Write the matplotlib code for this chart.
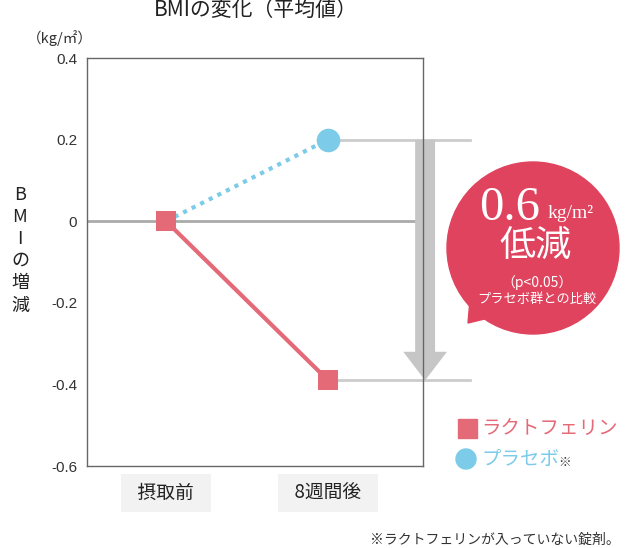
import numpy as np
import matplotlib.pyplot as plt
from matplotlib.patches import Circle, Polygon, FancyArrow

plt.rcParams['font.family'] = ['Noto Sans CJK JP', 'DejaVu Sans']

# data
timepoints = ["摂取前", "8週間後"]
lacto_vals = [0.0, -0.39]
placebo_vals = [0.0, 0.20]
yticks = [0.4, 0.2, 0, -0.2, -0.4, -0.6]
ytick_labels = ["0.4", "0.2", "0", "-0.2", "-0.4", "-0.6"]
series_names = ["ラクトフェリン", "プラセボ"]

pink = "#e46a78"
blue = "#7ccbe8"
bubble_red = "#e0435e"
arrow_gray = "#c6c6c6"

fig = plt.figure(figsize=(6.3, 5.48), dpi=100)
ax = fig.add_axes([87/630, 1-466/548, 336/630, 408/548])

x = np.arange(len(timepoints))
ax.set_xlim(-0.488, 1.586)
ax.set_ylim(-0.6, 0.4)

ax.axhline(0, color="#aaaaaa", lw=2, zorder=1)

# reference lines to the arrow
xr = 1.877
ax.plot([x[1], xr], [placebo_vals[1]] * 2, color="#cccccc", lw=2, clip_on=False, zorder=1)
ax.plot([x[1], xr], [lacto_vals[1]] * 2, color="#cccccc", lw=2, clip_on=False, zorder=1)

# difference arrow
ax_x = 1.599
head_len = 0.07
arr = FancyArrow(ax_x, placebo_vals[1], 0, lacto_vals[1] - placebo_vals[1],
                 width=0.123, head_width=0.27, head_length=head_len,
                 length_includes_head=True, color=arrow_gray, lw=0,
                 clip_on=False, zorder=2)
ax.add_patch(arr)

ax.plot(x, placebo_vals, color=blue, lw=3, ls=(0, (1, 1.3)), zorder=3)
ax.plot(x, lacto_vals, color=pink, lw=3, zorder=3)
ax.plot(x[1], placebo_vals[1], "o", color=blue, ms=17, mew=0, zorder=4, clip_on=False)
ax.plot(x, lacto_vals, "s", color=pink, ms=14, mew=0, zorder=5, clip_on=False)

for s in ax.spines.values():
    s.set_color("#666666")
    s.set_linewidth(1)

ax.set_yticks(yticks)
ax.set_yticklabels(ytick_labels, fontsize=11, color="#333333", family="Liberation Sans")
ax.tick_params(axis="y", length=0, pad=7)
ax.set_xticks([])

for xi, lab in zip(x, timepoints):
    ax.text(xi, -0.666, "  " + lab + "  ", ha="center", va="center", fontsize=13.5,
            color="#222222", bbox=dict(boxstyle="square,pad=0.45", fc="#f2f2f2", ec="none"),
            transform=ax.transData, clip_on=False)

# titles and labels
fig.text(256/630, 1-10/548, "BMIの変化（平均値）", ha="center", va="center", fontsize=15, color="#222222")
fig.text(60/630, 1-38/548, "（kg/㎡）", ha="center", va="center", fontsize=10.5, color="#333333")
fig.text(20/630, 1-250/548, "\n".join("BMIの増減"), ha="center", va="center",
         fontsize=13, linespacing=1.3, color="#222222")

# bubble
itr = fig.dpi_scale_trans
fig.patches.append(Circle((5.33, 3.0), 0.86, transform=itr, color=bubble_red, zorder=5))
fig.patches.append(Polygon([(4.70, 2.48), (4.97, 2.32), (4.68, 2.25)], closed=True,
                           transform=itr, color=bubble_red, zorder=5))
fig.text(510/630, 1-208/548, "0.6", ha="center", va="center", fontsize=35,
         family="Liberation Serif", color="white", zorder=6)
fig.text(571/630, 1-214/548, "kg/m²", ha="center", va="center", fontsize=14,
         family="Liberation Serif", color="white", zorder=6)
fig.text(536/630, 1-246/548, "低減", ha="center", va="center", fontsize=26,
         color="white", zorder=6)
fig.text(537/630, 1-283/548, "（p<0.05）", ha="center", va="center", fontsize=10,
         color="white", zorder=6)
fig.text(537/630, 1-299/548, "プラセボ群との比較", ha="center", va="center", fontsize=9.5,
         color="white", zorder=6)

# legend
fig.patches.append(plt.Rectangle((458/100, (548-438)/100), 0.19, 0.19, transform=itr,
                                 color=pink, zorder=5))
fig.text(481/630, 1-428/548, series_names[0], ha="left", va="center", fontsize=14, color=pink)
fig.patches.append(Circle((466/100, (548-459)/100), 0.1, transform=itr, color=blue, zorder=5))
fig.text(481/630, 1-459/548, series_names[1], ha="left", va="center", fontsize=14, color=blue)
fig.text(558/630, 1-462/548, "※", ha="left", va="center", fontsize=9, color="#333333")

fig.text(620/630, 1-540/548, "※ラクトフェリンが入っていない錠剤。", ha="right", va="center",
         fontsize=10, color="#333333")

fig.savefig("out.png", dpi=100)
